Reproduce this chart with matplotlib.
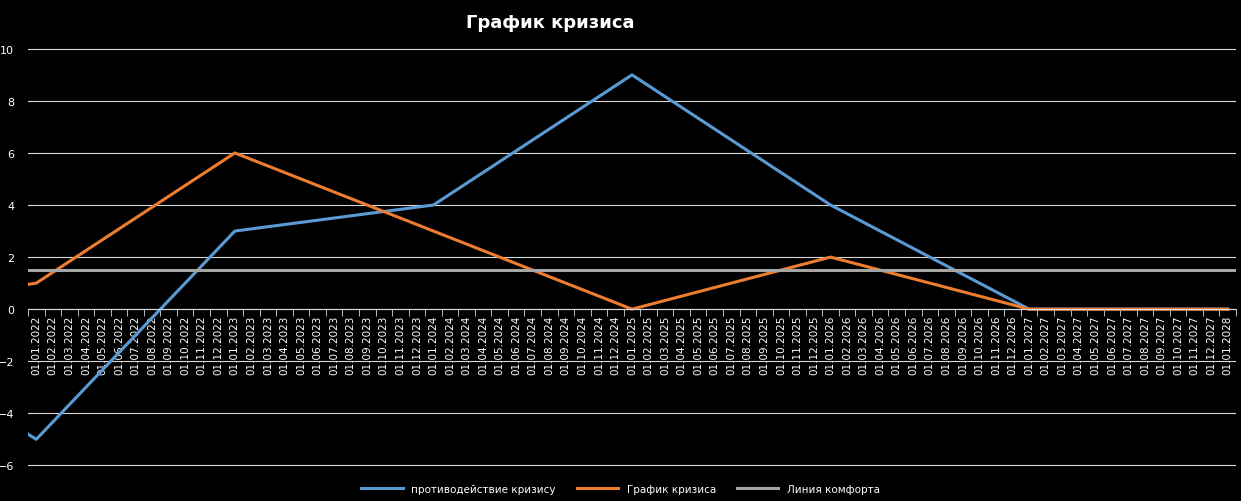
import numpy as np
import matplotlib
matplotlib.use("Agg")
import matplotlib.pyplot as plt

# month labels 01.01.2022 .. 01.01.2028
labels = [f"01.{m:02d}.{y}" for y in range(2022, 2028) for m in range(1, 13)] + ["01.01.2028"]

# key points (month index, value); -0.5 = left edge of the axis
counter_x = [-0.5, 0, 12, 24, 36, 48, 60, 72]
counter_y = [-4.8, -5, 3, 4, 9, 4, 0, 0]
crisis_x = [-0.5, 0, 12, 36, 48, 60, 72]
crisis_y = [0.95, 1, 6, 0, 2, 0, 0]
comfort = 1.5

BLUE, ORANGE, GREY = "#5B9BD5", "#ED7D31", "#A5A5A5"

fig = plt.figure(figsize=(12.41, 5.02), dpi=100, facecolor="black")
ax = fig.add_axes([28 / 1241, 7 / 502, 1208 / 1241, 453 / 502])
ax.set_facecolor("black")

for yv in range(-6, 11, 2):
    ax.axhline(yv, color="#d9d9d9", lw=0.8, zorder=0)

ax.plot(counter_x, counter_y, color=BLUE, lw=2.2, label="противодействие кризису")
ax.plot(crisis_x, crisis_y, color=ORANGE, lw=2.2, label="График кризиса")
ax.plot([-0.5, 72.5], [comfort, comfort], color=GREY, lw=2.2, label="Линия комфорта")

ax.set_xlim(-0.5, 72.5)
ax.set_ylim(-7.1, 10.3)
ax.set_yticks(range(-6, 11, 2))
ax.tick_params(axis="y", colors="white", labelsize=8, length=0, pad=10)

ax.spines["bottom"].set_position(("data", 0))
ax.spines["bottom"].set_color("#d9d9d9")
for s in ("top", "right", "left"):
    ax.spines[s].set_visible(False)
ax.set_xticks(np.arange(len(labels)))
ax.set_xticklabels(labels, rotation=90, color="white", fontsize=7.5)
ax.set_xticks(np.arange(len(labels) + 1) - 0.5, minor=True)
ax.tick_params(axis="x", which="major", length=0, pad=4)
ax.tick_params(axis="x", which="minor", length=5, color="#d9d9d9")

fig.text(0.443, 0.955, "График кризиса", color="white", fontsize=13,
         fontweight="bold", ha="center", va="center")
fig.legend(loc="lower center", bbox_to_anchor=(0.5, -0.005), ncol=3, frameon=False,
           fontsize=7.5, labelcolor="white", handlelength=4, columnspacing=2)

fig.savefig("out.png", dpi=100, facecolor="black")
